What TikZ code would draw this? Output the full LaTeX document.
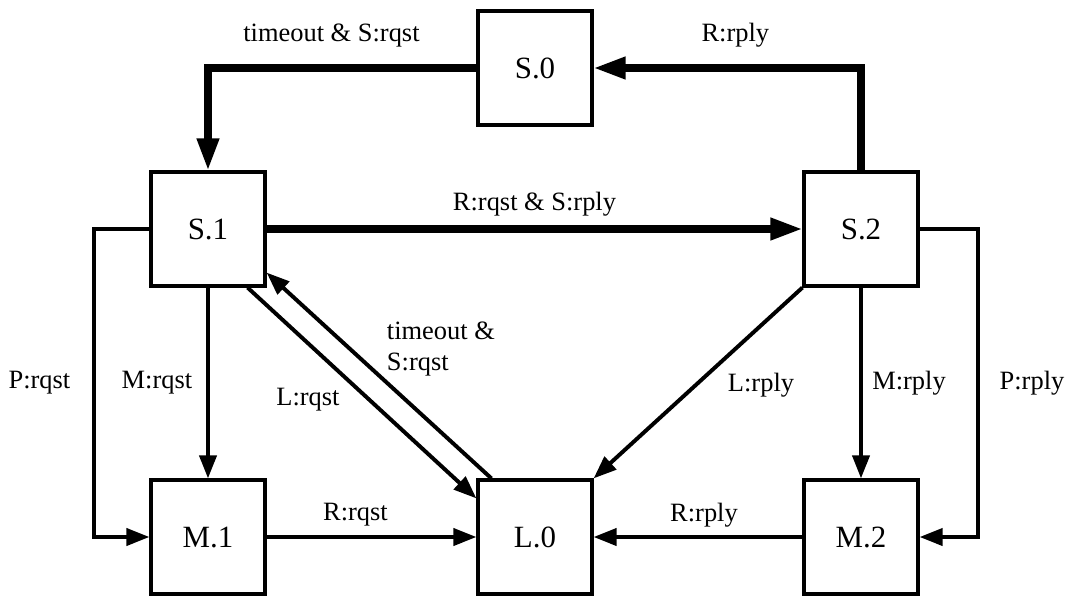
\documentclass[tikz,border=0pt]{standalone}
\usepackage{fontspec}
\setmainfont{Liberation Serif}
\usetikzlibrary{arrows.meta}
\tikzset{
  state/.style={draw,line width=2.8pt,minimum size=2.83cm,inner sep=0pt,font=\fontsize{22}{26}\selectfont},
  move/.style={line width=2.8pt,-{Triangle[length=0.575cm,width=0.425cm]}},
  bigmove/.style={line width=5pt,-{Triangle[length=0.8cm,width=0.525cm]}},
  lbl/.style={font=\fontsize{18.8}{22}\selectfont,inner sep=0pt}
}
\begin{document}
\begin{tikzpicture}[x=0.025cm,y=-0.025cm]
  \useasboundingbox (0,0) rectangle (1066,599);
  \node[state] (s0) at (535,68) {S.0};
  \node[state] (s1) at (208,229) {S.1};
  \node[state] (s2) at (861,229) {S.2};
  \node[state] (m1) at (208,537) {M.1};
  \node[state] (l0) at (535,537) {L.0};
  \node[state] (m2) at (861,537) {M.2};

  \draw[bigmove] (s0.west) -| (s1.north)
    node[lbl,pos=0.27,yshift=0.82cm] {timeout \& S:rqst};
  \draw[bigmove] (s2.north) |- (s0.east)
    node[lbl,pos=0.735,yshift=0.82cm] {R:rply};
  \draw[bigmove] (s1.east) -- (s2.west)
    node[lbl,midway,yshift=0.625cm] {R:rqst \& S:rply};

  \draw[move] (s1.south) -- (m1.north)
    node[lbl,midway,xshift=-1.275cm] {M:rqst};
  \draw[move] (s1.west) -- ++(-55,0) |- (m1.west)
    node[lbl,pos=0.25,xshift=-1.375cm] {P:rqst};
  \draw[move] ([xshift=-0.475cm]s1.south east) -- ([yshift=-0.5cm]l0.north west)
    node[lbl,midway,xshift=-1.35cm,yshift=-0.175cm] {L:rqst};
  \draw[move] ([xshift=0.375cm]l0.north west) -- ([yshift=0.375cm]s1.south east)
    node[lbl,midway,anchor=west,align=left,xshift=0.15cm,yshift=0.66cm] {timeout \&\\S:rqst};
  \draw[move] (m1.east) -- (l0.west)
    node[lbl,midway,xshift=-0.4cm,yshift=0.55cm] {R:rqst};

  \draw[move] (s2.south west) -- (l0.north east)
    node[lbl,midway,xshift=1.575cm,yshift=-0.05cm] {L:rply};
  \draw[move] (s2.south) -- (m2.north)
    node[lbl,midway,xshift=1.2cm] {M:rply};
  \draw[move] (s2.east) -- ++(58,0) |- (m2.east)
    node[lbl,pos=0.25,xshift=1.36cm] {P:rply};
  \draw[move] (m2.west) -- (l0.east)
    node[lbl,midway,xshift=0.15cm,yshift=0.55cm] {R:rply};
\end{tikzpicture}
\end{document}
